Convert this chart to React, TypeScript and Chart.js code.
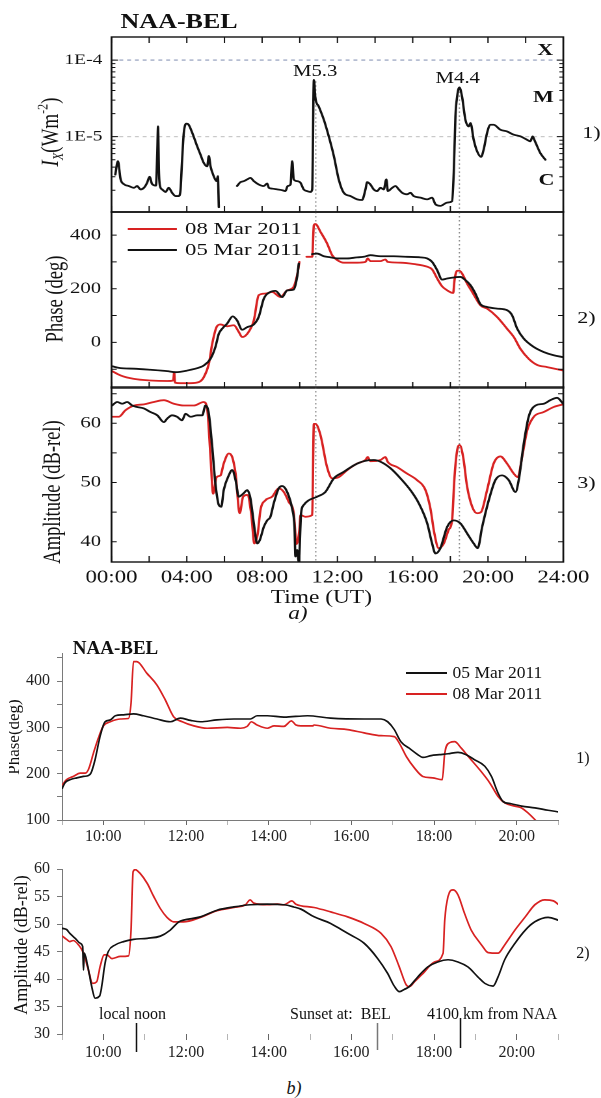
import React, { useEffect, useRef } from 'react';
import { Chart, registerables } from 'chart.js';

Chart.register(...registerables);

const SERIF = '"Liberation Serif", "Times New Roman", Times, serif';
Chart.defaults.font.family = SERIF;
Chart.defaults.color = '#111';

const RED = '#d82222';
const BLACK = '#121212';

// ---------------- DATA ----------------
// a) 1) GOES X-ray flux [hour UT, W/m^2]
const xrayFlux: [number, number | null][] = [
  [0.2, 3.2e-6], [0.34, 4.8e-6], [0.48, 2.8e-6], [0.66, 2.4e-6], [0.92, 2.27e-6], [1.19, 2.15e-6],
  [1.36, 2.27e-6], [1.54, 2.05e-6], [1.72, 2.15e-6], [1.89, 2.5e-6], [2.02, 3.0e-6], [2.16, 2.4e-6],
  [2.36, 2.3e-6], [2.43, 6e-6], [2.47, 1.36e-5], [2.52, 3.5e-6], [2.57, 2.3e-6], [2.69, 2.05e-6],
  [2.87, 1.9e-6], [3.04, 2.15e-6], [3.22, 1.85e-6], [3.4, 1.68e-6], [3.57, 1.68e-6], [3.66, 1.95e-6],
  [3.75, 5.0e-6], [3.84, 1.12e-5], [3.98, 1.48e-5], [4.1, 1.43e-5], [4.29, 1.12e-5], [4.55, 7.5e-6],
  [4.73, 5.8e-6], [4.9, 4.55e-6], [5.08, 4.1e-6], [5.17, 5.6e-6], [5.26, 4.1e-6], [5.43, 3.05e-6],
  [5.58, 2.63e-6], [5.65, 3.05e-6], [5.7, 1.2e-6], [6.2, null],
  [6.67, 2.27e-6], [6.85, 2.55e-6], [7.03, 2.63e-6], [7.21, 2.77e-6], [7.38, 2.9e-6], [7.56, 2.63e-6],
  [7.82, 2.38e-6], [8.09, 2.27e-6], [8.27, 2.45e-6], [8.36, 2.15e-6], [8.53, 2.1e-6], [8.8, 2.05e-6],
  [9.07, 2.0e-6], [9.24, 1.95e-6], [9.36, 2.27e-6], [9.51, 2.38e-6], [9.6, 4.8e-6], [9.68, 2.77e-6],
  [9.86, 2.63e-6], [10.04, 2.5e-6], [10.21, 2.05e-6], [10.39, 1.95e-6], [10.57, 1.9e-6], [10.66, 2.05e-6],
  [10.75, 5.5e-5], [10.83, 3.2e-5], [11.01, 2.48e-5], [11.28, 1.66e-5], [11.54, 1.01e-5], [11.81, 5.6e-6],
  [12.07, 2.77e-6], [12.34, 1.85e-6], [12.69, 1.68e-6], [13.05, 1.52e-6], [13.31, 1.49e-6], [13.49, 2.05e-6],
  [13.58, 2.55e-6], [13.75, 2.38e-6], [13.93, 2.05e-6], [14.11, 1.95e-6], [14.29, 2.15e-6], [14.46, 2.05e-6],
  [14.6, 2.77e-6], [14.68, 1.95e-6], [14.91, 2.15e-6], [15.08, 2.27e-6], [15.26, 2.05e-6], [15.44, 1.85e-6],
  [15.7, 1.77e-6], [15.88, 1.85e-6], [16.05, 1.68e-6], [16.41, 1.6e-6], [16.77, 1.52e-6], [17.03, 1.6e-6],
  [17.21, 1.31e-6], [17.47, 1.25e-6], [17.83, 1.38e-6], [18.09, 1.44e-6], [18.18, 3.37e-6], [18.27, 1.84e-5],
  [18.36, 3.34e-5], [18.48, 4.4e-5], [18.62, 3.34e-5], [18.8, 1.66e-5], [18.98, 1.36e-5], [19.07, 1.51e-5],
  [19.24, 9.1e-6], [19.42, 6.45e-6], [19.63, 5.45e-6], [19.77, 6.8e-6], [19.95, 1.12e-5], [20.13, 1.43e-5],
  [20.3, 1.43e-5], [20.66, 1.23e-5], [21.01, 1.17e-5], [21.37, 1.06e-5], [21.72, 1.01e-5], [22.08, 9.1e-6],
  [22.25, 8.7e-6], [22.37, 1.01e-5], [22.46, 9.1e-6], [22.61, 7.5e-6], [22.78, 6.1e-6], [23.05, 5.0e-6],
];

// a) 2) Phase (deg) [hour UT, deg]
const phaseA05: [number, number | null][] = [
  [0.03, -89], [0.48, -96], [1.19, -98], [2.07, -102], [2.96, -107], [3.4, -111], [4.02, -105], [4.73, -92],
  [4.9, -86], [5.26, -61], [5.52, -17], [5.7, 32], [5.88, 51], [6.14, 70], [6.44, 97], [6.67, 82], [6.94, 47],
  [7.21, 57], [7.56, 67], [7.82, 95], [8.09, 163], [8.44, 188], [8.71, 192], [9.07, 169], [9.33, 194],
  [9.68, 197], [9.86, 244], [9.95, 294], [10.3, null], [10.66, 329], [10.92, 331], [11.28, 321], [11.63, 317],
  [11.99, 313], [12.52, 313], [13.05, 317], [13.4, 319], [13.75, 325], [14.29, 321], [14.99, 321], [15.7, 319],
  [16.41, 317], [16.77, 313], [17.03, 300], [17.3, 269], [17.56, 234], [17.83, 238], [18.18, 242], [18.53, 244],
  [18.8, 232], [19.07, 213], [19.33, 182], [19.6, 142], [19.95, 132], [20.48, 126], [21.01, 120], [21.28, 101],
  [21.55, 51], [21.9, 14], [22.43, -17], [22.96, -36], [23.49, -48], [23.99, -55],
];
const phaseA08: [number, number | null][] = [
  [0.03, -107], [0.48, -123], [1.19, -136], [2.07, -142], [2.96, -144], [3.28, -142], [3.33, -112], [3.37, -150],
  [3.66, -152], [4.2, -152], [4.64, -148], [4.9, -130], [5.17, -80], [5.35, -5], [5.58, 57], [5.79, 67],
  [6.14, 60], [6.5, 64], [6.76, 39], [6.94, 20], [7.21, 32], [7.56, 82], [7.82, 176], [8.18, 182], [8.53, 188],
  [8.98, 169], [9.33, 194], [9.65, 204], [9.86, 250], [9.98, 300], [10.2, null], [10.36, 319], [10.66, 319],
  [10.75, 437], [10.83, 441], [11.1, 412], [11.45, 369], [11.72, 325], [11.99, 307], [12.34, 297], [13.05, 297],
  [13.49, 300], [13.61, 313], [13.75, 303], [14.29, 303], [14.55, 309], [14.67, 300], [15.35, 297], [16.05, 292],
  [16.77, 282], [17.03, 272], [17.3, 238], [17.56, 209], [17.83, 194], [18.15, 184], [18.22, 232], [18.36, 267],
  [18.48, 267], [18.62, 257], [18.89, 219], [19.16, 188], [19.6, 138], [19.95, 126], [20.48, 95], [21.01, 51],
  [21.37, 20], [21.72, -24], [22.16, -61], [22.61, -84], [23.14, -92], [23.99, -105],
];

// a) 3) Amplitude (dB-rel) [hour UT, dB]
const ampA05: [number, number][] = [
  [0.03, 63.0], [0.3, 63.6], [0.57, 63.3], [0.83, 63.6], [1.1, 63.0], [1.36, 62.75], [1.72, 62.5], [2.07, 61.9],
  [2.43, 61.35], [2.78, 60.2], [2.96, 60.8], [3.22, 61.35], [3.48, 61.1], [3.75, 60.5], [3.93, 61.6], [4.2, 61.1],
  [4.55, 61.35], [4.82, 61.35], [4.99, 63.0], [5.17, 61.6], [5.35, 56.0], [5.52, 49.8], [5.7, 46.2], [5.83, 45.9],
  [5.96, 48.7], [6.23, 51.2], [6.41, 52.1], [6.59, 50.4], [6.76, 47.6], [6.99, 48.1], [7.21, 48.7], [7.38, 47.3],
  [7.56, 43.1], [7.74, 39.7], [7.88, 40.3], [8.09, 42.5], [8.27, 43.6], [8.44, 44.2], [8.62, 46.5], [8.88, 49.0],
  [9.07, 49.4], [9.33, 48.4], [9.6, 45.5], [9.72, 42.5], [9.77, 37.5], [9.86, 38.6], [9.95, 36.6], [10.07, 44.8],
  [10.21, 46.2], [10.48, 47.0], [10.92, 47.6], [11.36, 48.4], [11.81, 50.7], [12.34, 51.8], [12.87, 52.9],
  [13.4, 53.6], [13.93, 53.8], [14.29, 53.5], [14.82, 52.4], [15.35, 50.7], [15.88, 48.7], [16.32, 46.5],
  [16.77, 43.1], [17.03, 39.7], [17.21, 38.0], [17.47, 38.9], [17.83, 42.5], [18.18, 43.6], [18.53, 43.1],
  [18.89, 41.4], [19.24, 39.7], [19.45, 38.9], [19.69, 42.5], [20.04, 47.0], [20.39, 50.4], [20.75, 51.2],
  [21.1, 50.4], [21.46, 48.4], [21.63, 50.4], [21.9, 56.6], [22.16, 61.1], [22.52, 63.0], [22.96, 63.3],
  [23.31, 63.9], [23.67, 64.3], [23.99, 63.3],
];
const ampA08: [number, number][] = [
  [0.03, 61.1], [0.39, 61.1], [0.74, 62.2], [1.19, 63.0], [1.72, 63.2], [2.25, 63.6], [2.78, 63.9], [3.31, 63.3],
  [3.84, 63.0], [4.37, 63.0], [4.9, 63.6], [5.08, 62.5], [5.26, 54.3], [5.4, 48.1], [5.58, 50.9], [5.79, 51.2],
  [5.96, 53.2], [6.23, 54.9], [6.41, 54.3], [6.59, 51.5], [6.81, 44.8], [6.99, 47.6], [7.21, 47.9], [7.42, 44.8],
  [7.59, 39.7], [7.77, 41.4], [7.91, 45.3], [8.18, 47.0], [8.53, 47.6], [8.88, 49.0], [9.15, 48.4], [9.42, 46.7],
  [9.68, 44.8], [9.83, 39.6], [9.98, 42.0], [10.04, 44.5], [10.3, 44.2], [10.66, 44.5], [10.75, 59.9],
  [10.83, 59.9], [11.1, 58.0], [11.45, 52.6], [11.72, 50.7], [12.07, 50.9], [12.52, 52.1], [13.05, 53.2],
  [13.49, 53.8], [13.61, 54.3], [13.75, 53.6], [14.29, 53.8], [14.55, 54.3], [14.67, 53.5], [15.17, 52.6],
  [15.7, 51.5], [16.23, 50.4], [16.68, 48.7], [16.94, 45.6], [17.15, 41.4], [17.38, 38.9], [17.65, 39.7],
  [17.91, 42.0], [18.09, 43.6], [18.22, 50.9], [18.36, 55.4], [18.5, 56.3], [18.68, 54.3], [18.89, 49.3],
  [19.16, 45.9], [19.42, 44.8], [19.63, 45.0], [19.95, 48.7], [20.3, 53.2], [20.66, 54.4], [21.01, 53.2],
  [21.37, 51.5], [21.58, 50.9], [21.81, 54.3], [22.08, 58.8], [22.43, 61.1], [22.96, 61.9], [23.49, 62.75],
  [23.99, 63.2],
];

// b) 1) Phase (deg), 09-21 UT
const phaseB05: [number, number][] = [
  [9.01, 169], [9.07, 180], [9.19, 187], [9.36, 191], [9.52, 194], [9.64, 196], [9.7, 201], [9.8, 230],
  [9.92, 280], [10.04, 312], [10.17, 316], [10.29, 325], [10.49, 327], [10.73, 329], [10.97, 325], [11.3, 318],
  [11.62, 312], [11.86, 320], [12.11, 315], [12.35, 312], [12.75, 316], [13.16, 318], [13.56, 318], [13.72, 325],
  [13.97, 325], [14.37, 322], [14.94, 325], [15.5, 320], [16.31, 318], [16.72, 318], [16.88, 312], [17.04, 295],
  [17.2, 269], [17.4, 255], [17.61, 241], [17.73, 235], [17.93, 239], [18.13, 241], [18.34, 243], [18.58, 246],
  [18.78, 241], [18.98, 230], [19.23, 216], [19.39, 194], [19.55, 158], [19.67, 140], [19.87, 135], [20.12, 130],
  [20.44, 126], [20.76, 121], [21.05, 117],
];
const phaseB08: [number, number][] = [
  [9.01, 176], [9.11, 187], [9.27, 194], [9.44, 201], [9.56, 201], [9.64, 209], [9.76, 244], [9.88, 277],
  [10.0, 303], [10.17, 312], [10.41, 318], [10.61, 319], [10.67, 352], [10.73, 442], [10.81, 442], [11.05, 417],
  [11.3, 391], [11.5, 359], [11.7, 323], [11.91, 312], [12.19, 303], [12.51, 298], [13.0, 300], [13.32, 298],
  [13.48, 302], [13.58, 312], [13.72, 305], [13.97, 298], [14.13, 303], [14.37, 302], [14.55, 314], [14.66, 305],
  [14.78, 303], [15.06, 303], [15.1, 305], [15.5, 298], [15.91, 295], [16.31, 288], [16.72, 282], [17.04, 280],
  [17.16, 266], [17.33, 237], [17.53, 212], [17.73, 194], [17.97, 191], [18.2, 187], [18.26, 244], [18.38, 267],
  [18.5, 269], [18.66, 255], [18.86, 234], [19.1, 209], [19.35, 180], [19.55, 151], [19.71, 137], [19.96, 130],
  [20.12, 126], [20.28, 115], [20.44, 101], [20.5, 95],
];

// b) 2) Amplitude (dB-rel), 09-21 UT
const ampB05: [number, number][] = [
  [9.01, 49.2], [9.11, 49.0], [9.19, 48.3], [9.32, 47.4], [9.44, 46.5], [9.5, 45.9], [9.52, 41.6], [9.54, 44.7],
  [9.61, 42.8], [9.72, 38.6], [9.8, 36.5], [9.91, 36.9], [9.96, 38.6], [10.04, 42.8], [10.12, 45.0], [10.29, 46.2],
  [10.49, 46.8], [10.73, 47.2], [11.06, 47.4], [11.38, 47.8], [11.62, 48.9], [11.83, 50.4], [11.94, 50.7],
  [12.35, 51.3], [12.75, 52.5], [13.16, 53.1], [13.56, 53.5], [13.97, 53.6], [14.37, 53.5], [14.61, 53.1],
  [14.78, 52.7], [15.1, 51.3], [15.5, 50.1], [15.91, 48.3], [16.31, 46.5], [16.64, 43.7], [16.88, 41.0],
  [17.04, 38.7], [17.16, 37.7], [17.28, 38.1], [17.4, 38.6], [17.61, 40.4], [17.85, 42.2], [18.09, 43.1],
  [18.34, 43.5], [18.58, 43.1], [18.82, 42.2], [19.06, 40.4], [19.23, 39.2], [19.43, 38.7], [19.55, 40.4],
  [19.71, 43.5], [19.96, 46.5], [20.21, 48.9], [20.44, 50.4], [20.76, 51.2], [21.05, 50.6],
];
const ampB08: [number, number][] = [
  [9.01, 47.8], [9.11, 47.2], [9.19, 46.8], [9.27, 47.0], [9.4, 46.2], [9.52, 44.7], [9.64, 41.6], [9.74, 39.2],
  [9.84, 39.5], [9.92, 42.2], [10.02, 44.4], [10.09, 44.4], [10.21, 43.7], [10.41, 44.1], [10.61, 44.2],
  [10.67, 48.9], [10.72, 59.5], [10.77, 59.9], [10.89, 59.2], [11.06, 57.4], [11.22, 55.0], [11.38, 52.8],
  [11.54, 51.2], [11.7, 50.4], [11.94, 50.4], [12.35, 51.2], [12.75, 52.4], [13.16, 53.0], [13.44, 53.5],
  [13.55, 54.4], [13.64, 53.8], [13.97, 53.5], [14.21, 53.6], [14.37, 53.5], [14.56, 54.2], [14.66, 53.6],
  [15.1, 53.0], [15.5, 52.2], [15.91, 51.3], [16.31, 50.1], [16.72, 48.3], [16.96, 45.9], [17.16, 42.2],
  [17.33, 38.9], [17.4, 38.6], [17.53, 39.5], [17.77, 41.3], [18.01, 43.1], [18.22, 44.7], [18.26, 50.7],
  [18.34, 55.0], [18.46, 56.2], [18.58, 55.3], [18.74, 51.9], [18.9, 48.9], [19.15, 46.2], [19.31, 44.8],
  [19.55, 44.7], [19.71, 46.2], [19.96, 48.9], [20.21, 51.3], [20.44, 53.5], [20.68, 54.4], [20.89, 54.2],
  [21.05, 53.3],
];

// Event times and reference levels
const flareHours = [10.85, 18.48];        // M5.3 and M4.4 flare maxima (dotted lines)
const flarePeaks = [5.3e-5, 4.4e-5];
const classLevels = [1e-4, 1e-5];         // X / M class boundaries
const aHourTicks = [0, 2, 4, 6, 8, 10, 12, 14, 16, 18, 20, 22, 24];
const logDecades = [-6, -5, -4];
const logMantissas = [1, 2, 3, 4, 5, 6, 7, 8, 9];
const phaseATicks = [-100, 0, 100, 200, 300, 400];
const ampATicks = [40, 45, 50, 55, 60, 65];
const markHours = [10.8, 16.62, 18.63];   // local noon, sunset at BEL, 4100 km from NAA
const legendLabels = ['05 Mar 2011', '08 Mar 2011'];

// ---------------- helpers ----------------
const pts = (arr: [number, number | null][]) => arr.map(([x, y]) => ({ x, y }));
const hh = (v: number) => `${String(v).padStart(2, '0')}:00`;

const fixW = (w: number) => (s: any) => {
  s.width = w; s.paddingTop = 0; s.paddingBottom = 0; s.paddingLeft = 0; s.paddingRight = 0;
};
const fixH = (h: number) => (s: any) => {
  s.height = h; s.paddingTop = 0; s.paddingBottom = 0; s.paddingLeft = 0; s.paddingRight = 0;
};

const line = (data: any[], color: string, w = 1.7) => ({
  data, borderColor: color, backgroundColor: color, borderWidth: w, pointRadius: 0,
  cubicInterpolationMode: 'monotone', spanGaps: false, fill: false,
  borderJoinStyle: 'round', borderCapStyle: 'round',
});

type Part = { t: string; size: number; italic?: boolean; dy?: number };
const vTitle = (cx: number, cy: number, parts: Part[], clipLeft?: number) => ({
  id: 'vTitle',
  afterDraw(chart: any) {
    const ctx = chart.ctx;
    ctx.save();
    if (clipLeft !== undefined) {
      ctx.beginPath(); ctx.rect(clipLeft, 0, chart.width, chart.height); ctx.clip();
    }
    ctx.translate(cx, cy);
    ctx.rotate(-Math.PI / 2);
    ctx.fillStyle = '#111';
    ctx.textBaseline = 'alphabetic';
    ctx.textAlign = 'left';
    const f = (p: Part) => `${p.italic ? 'italic ' : ''}${p.size}px ${SERIF}`;
    let total = 0;
    for (const p of parts) { ctx.font = f(p); total += ctx.measureText(p.t).width; }
    let x = -total / 2;
    for (const p of parts) { ctx.font = f(p); ctx.fillText(p.t, x, p.dy || 0); x += ctx.measureText(p.t).width; }
    ctx.restore();
  },
});

const boxTicks = (yTicks: { v: number; len: number }[], topTicks: boolean) => ({
  id: 'boxTicks',
  afterDraw(chart: any) {
    const { ctx, chartArea: a, scales } = chart;
    ctx.save();
    ctx.setLineDash([]);
    ctx.strokeStyle = '#111';
    ctx.lineWidth = 1;
    ctx.beginPath();
    for (const h of aHourTicks) {
      const px = scales.x.getPixelForValue(h);
      ctx.moveTo(px, a.bottom); ctx.lineTo(px, a.bottom - 6);
      if (topTicks) { ctx.moveTo(px, a.top); ctx.lineTo(px, a.top + 6); }
    }
    for (const t of yTicks) {
      const py = scales.y.getPixelForValue(t.v);
      ctx.moveTo(a.left, py); ctx.lineTo(a.left + t.len, py);
      ctx.moveTo(a.right, py); ctx.lineTo(a.right - t.len, py);
    }
    ctx.stroke();
    ctx.lineWidth = 1.4;
    ctx.strokeRect(a.left, a.top, a.right - a.left, a.bottom - a.top);
    ctx.restore();
  },
});

const flareMarks = (starts: number[] | null) => ({
  id: 'flareMarks',
  beforeDatasetsDraw(chart: any) {
    const { ctx, chartArea: a, scales } = chart;
    ctx.save();
    ctx.strokeStyle = '#8a8a8a';
    ctx.lineWidth = 1;
    ctx.setLineDash([1.5, 2.5]);
    flareHours.forEach((h, i) => {
      const px = scales.x.getPixelForValue(h);
      const top = starts ? scales.y.getPixelForValue(starts[i]) : a.top;
      ctx.beginPath(); ctx.moveTo(px, top); ctx.lineTo(px, a.bottom); ctx.stroke();
    });
    ctx.restore();
  },
});

const classLines = {
  id: 'classLines',
  beforeDatasetsDraw(chart: any) {
    const { ctx, chartArea: a, scales } = chart;
    const colors = ['#7f8cb0', '#bdbdbd'];
    ctx.save();
    ctx.lineWidth = 1;
    ctx.setLineDash([3, 3]);
    classLevels.forEach((v, i) => {
      const py = scales.y.getPixelForValue(v);
      ctx.strokeStyle = colors[i];
      ctx.beginPath(); ctx.moveTo(a.left, py); ctx.lineTo(a.right, py); ctx.stroke();
    });
    ctx.restore();
  },
};

const sunMarks = {
  id: 'sunMarks',
  afterDraw(chart: any) {
    const { ctx, chartArea: a, scales } = chart;
    const colors = ['#111', '#777', '#111'];
    const ext = [[-11, 18], [-11, 16], [-16, 14]];
    ctx.save();
    ctx.lineWidth = 1.5;
    markHours.forEach((h, i) => {
      const px = Math.round(scales.x.getPixelForValue(h)) + 0.5;
      ctx.strokeStyle = colors[i];
      ctx.beginPath(); ctx.moveTo(px, a.bottom + ext[i][0]); ctx.lineTo(px, a.bottom + ext[i][1]); ctx.stroke();
    });
    ctx.restore();
  },
};

// ---------------- layout ----------------
const AW = 462;               // logical width of panel a (stretched horizontally)
const SX = 601 / AW;
const AL = 111.5 / SX;        // plot left (logical)
const AR = 563.3 / SX;        // plot right (logical)
const AYW = 60;               // left axis width (logical)
const aPad = (top: number, bottom: number) => ({ left: AL - AYW, right: AW - AR, top, bottom });

const baseOpts = (dpr: number) => ({
  animation: false,
  responsive: false,
  devicePixelRatio: dpr,
  events: [],
  plugins: { legend: { display: false }, tooltip: { enabled: false } },
});

const hiddenGrid = { display: false, drawTicks: false };

const a1Ticks = logDecades
  .flatMap((d) => logMantissas.map((m) => ({ v: m * Math.pow(10, d), len: m === 1 ? 5 : 3 })))
  .filter((t) => t.v > 1.04e-6 && t.v < 2e-4);

const makeA1 = () => ({
  type: 'line',
  data: { datasets: [line(pts(xrayFlux), BLACK, 1.8)] },
  options: {
    ...baseOpts(2),
    layout: { padding: aPad(37, 3) },
    scales: {
      x: { type: 'linear', min: 0, max: 24, display: false },
      y: {
        type: 'logarithmic', min: 1.04e-6, max: 2e-4, afterFit: fixW(AYW),
        grid: hiddenGrid, border: { display: false },
        ticks: {
          autoSkip: false, padding: 7, color: '#111', font: { size: 15 },
          callback: (v: number) => {
            const l = Math.log10(v);
            if (Math.abs(l - Math.round(l)) > 1e-6) return '';
            const e = Math.round(l);
            return e === -4 || e === -5 ? `1E${e}` : '';
          },
        },
      },
    },
  },
  plugins: [classLines, flareMarks(flarePeaks), boxTicks(a1Ticks, true),
    vTitle(44.6, 132, [
      { t: 'I', size: 19, italic: true }, { t: 'X', size: 12, italic: true, dy: 4 },
      { t: '(Wm', size: 19 }, { t: '-2', size: 12, dy: -8 }, { t: ')', size: 19 },
    ])],
});

const makeA2 = () => ({
  type: 'line',
  data: { datasets: [line(pts(phaseA05), BLACK, 1.8), line(pts(phaseA08), RED, 1.8)] },
  options: {
    ...baseOpts(2),
    layout: { padding: aPad(7, 7) },
    scales: {
      x: { type: 'linear', min: 0, max: 24, display: false },
      y: {
        type: 'linear', min: -170, max: 486, afterFit: fixW(AYW),
        grid: hiddenGrid, border: { display: false },
        ticks: { stepSize: 200, includeBounds: false, autoSkip: false, padding: 8, color: '#111', font: { size: 16 } },
      },
    },
  },
  plugins: [flareMarks(null), boxTicks(phaseATicks.map((v) => ({ v, len: 4 })), false),
    vTitle(47.9, 94, [{ t: 'Phase (deg)', size: 18.5 }])],
});

const makeA3 = () => ({
  type: 'line',
  data: { datasets: [line(pts(ampA05), BLACK, 1.8), line(pts(ampA08), RED, 1.8)] },
  options: {
    ...baseOpts(2),
    layout: { padding: aPad(7, 0) },
    scales: {
      x: {
        type: 'linear', min: 0, max: 24, afterFit: fixH(48),
        grid: hiddenGrid, border: { display: false },
        ticks: {
          stepSize: 2, autoSkip: false, maxRotation: 0, padding: 5.5, color: '#111', font: { size: 17.5 },
          callback: (v: number) => (v % 4 === 0 ? hh(v) : ''),
        },
      },
      y: {
        type: 'linear', min: 36.57, max: 66.13, afterFit: fixW(AYW),
        grid: hiddenGrid, border: { display: false },
        ticks: { stepSize: 10, includeBounds: false, autoSkip: false, padding: 8, color: '#111', font: { size: 16 } },
      },
    },
  },
  plugins: [flareMarks(null), boxTicks(ampATicks.map((v) => ({ v, len: 4 })), false),
    vTitle(45.8, 112, [{ t: 'Amplitude (dB-rel)', size: 18.5 }])],
});

const bGrid = (len: number) => ({
  display: true, drawOnChartArea: false, drawTicks: true, tickLength: len, tickWidth: 1,
  tickColor: (c: any) => (c.tick && c.tick.value % 2 !== 0 ? '#b5b5b5' : '#666'),
});
const bXAxis = (h: number, len: number, pad: number, border: boolean) => ({
  type: 'linear', min: 9, max: 21, afterFit: fixH(h),
  grid: bGrid(len), border: { display: border, color: '#7a7a7a', width: 1 },
  ticks: {
    stepSize: 1, autoSkip: false, maxRotation: 0, padding: pad, color: '#222', font: { size: 16 },
    callback: (v: number) => (v % 2 === 0 ? hh(v) : ''),
  },
});

const makeB1 = () => ({
  type: 'line',
  data: { datasets: [line(pts(phaseB05), BLACK, 1.7), line(pts(phaseB08), RED, 1.7)] },
  options: {
    ...baseOpts(1),
    layout: { padding: { left: 0, right: 43, top: 13.2, bottom: 0 } },
    scales: {
      x: bXAxis(30, 5, 2.5, true),
      y: {
        type: 'linear', min: 100, max: 460, afterFit: fixW(62),
        grid: { display: true, drawOnChartArea: false, drawTicks: true, tickLength: 5, tickColor: '#777' },
        border: { display: true, color: '#7a7a7a', width: 1 },
        ticks: {
          stepSize: 50, includeBounds: false, autoSkip: false, padding: 7, color: '#222', font: { size: 16 },
          callback: (v: number) => (v % 100 === 0 ? String(v) : ''),
        },
      },
    },
  },
  plugins: [vTitle(18.5, 97, [{ t: 'Phase(deg)', size: 17 }], 9)],
});

const makeB2 = () => ({
  type: 'line',
  data: { datasets: [line(pts(ampB05), BLACK, 1.7), line(pts(ampB08), RED, 1.7)] },
  options: {
    ...baseOpts(1),
    layout: { padding: { left: 0, right: 43, top: 14, bottom: 0 } },
    scales: {
      x: bXAxis(31, 6, 3.4, false),
      y: {
        type: 'linear', min: 30, max: 60, afterFit: fixW(62),
        grid: { display: true, drawOnChartArea: false, drawTicks: true, tickLength: 5, tickColor: '#777' },
        border: { display: true, color: '#7a7a7a', width: 1 },
        ticks: { stepSize: 5, autoSkip: false, padding: 7, color: '#222', font: { size: 16 } },
      },
    },
  },
  plugins: [sunMarks, vTitle(26.7, 90, [{ t: 'Amplitude (dB-rel)', size: 18 }])],
});

// ---------------- components ----------------
function ChartBox({ left, top, width, height, make }: any) {
  const ref = useRef<HTMLCanvasElement>(null);
  useEffect(() => {
    const chart = new Chart(ref.current as HTMLCanvasElement, make());
    return () => chart.destroy();
  }, []);
  return (
    <canvas
      ref={ref}
      width={width}
      height={height}
      style={{ position: 'absolute', left, top, width, height }}
    />
  );
}

function Txt({ x, y, size = 16, bold = false, italic = false, anchor = 'c', color = '#111', children }: any) {
  return (
    <div
      style={{
        position: 'absolute', left: x, top: y,
        transform: anchor === 'c' ? 'translate(-50%, -50%)' : 'translate(0, -50%)',
        fontFamily: SERIF, fontSize: size, fontWeight: bold ? 700 : 400,
        fontStyle: italic ? 'italic' : 'normal', lineHeight: 1, whiteSpace: 'pre', color,
      }}
    >
      {children}
    </div>
  );
}

function Swatch({ x, y, w, color }: any) {
  return <div style={{ position: 'absolute', left: x, top: y - 1, width: w, height: 2, background: color }} />;
}

export default function App() {
  return (
    <div style={{ position: 'absolute', left: 0, top: 0, width: 601, height: 1098, background: '#fff', overflow: 'hidden' }}>
      {/* panel a: stretched horizontally like the reference */}
      <div style={{ position: 'absolute', left: 0, top: 0, width: AW, height: 630, transform: `scaleX(${SX})`, transformOrigin: '0 0' }}>
        <ChartBox left={0} top={0} width={AW} height={215} make={makeA1} />
        <ChartBox left={0} top={205} width={AW} height={190} make={makeA2} />
        <ChartBox left={0} top={380} width={AW} height={230} make={makeA3} />
        <Txt x={137.7} y={21} size={20} bold>NAA-BEL</Txt>
        <Txt x={242.3} y={71} size={16}>M5.3</Txt>
        <Txt x={351.9} y={77.5} size={16}>M4.4</Txt>
        <Txt x={419.2} y={49} size={17} bold>X</Txt>
        <Txt x={417.7} y={96} size={17} bold>M</Txt>
        <Txt x={420} y={179} size={17} bold>C</Txt>
        <Txt x={454.6} y={132} size={17}>1)</Txt>
        <Txt x={450.8} y={317} size={17}>2)</Txt>
        <Txt x={450.8} y={482} size={17}>3)</Txt>
        <Swatch x={97.5} y={229} w={38.5} color={RED} />
        <Txt x={142.3} y={229} size={17.5} anchor="l">{legendLabels[1]}</Txt>
        <Swatch x={97.5} y={250} w={38.5} color={BLACK} />
        <Txt x={142.3} y={250} size={17.5} anchor="l">{legendLabels[0]}</Txt>
        <Txt x={247} y={597} size={18}>Time (UT)</Txt>
        <Txt x={229} y={613} size={18} italic>a)</Txt>
      </div>

      {/* panel b */}
      <ChartBox left={0} top={640} width={601} height={210} make={makeB1} />
      <ChartBox left={0} top={855} width={601} height={210} make={makeB2} />
      <Txt x={115.5} y={647} size={19} bold>NAA-BEL</Txt>
      <Swatch x={406} y={673} w={41} color={BLACK} />
      <Txt x={452.5} y={673} size={17.5} anchor="l">{legendLabels[0]}</Txt>
      <Swatch x={406} y={694} w={41} color={RED} />
      <Txt x={452.5} y={694} size={17.5} anchor="l">{legendLabels[1]}</Txt>
      <Txt x={583} y={758} size={16}>1)</Txt>
      <Txt x={583} y={953} size={16}>2)</Txt>
      <Txt x={99} y={1014} size={16} anchor="l">local noon</Txt>
      <Txt x={290} y={1014} size={16} anchor="l">{'Sunset at:  BEL'}</Txt>
      <Txt x={427} y={1014} size={16} anchor="l">4100 km from NAA</Txt>
      <Txt x={294} y={1088} size={18} italic>b)</Txt>
    </div>
  );
}
